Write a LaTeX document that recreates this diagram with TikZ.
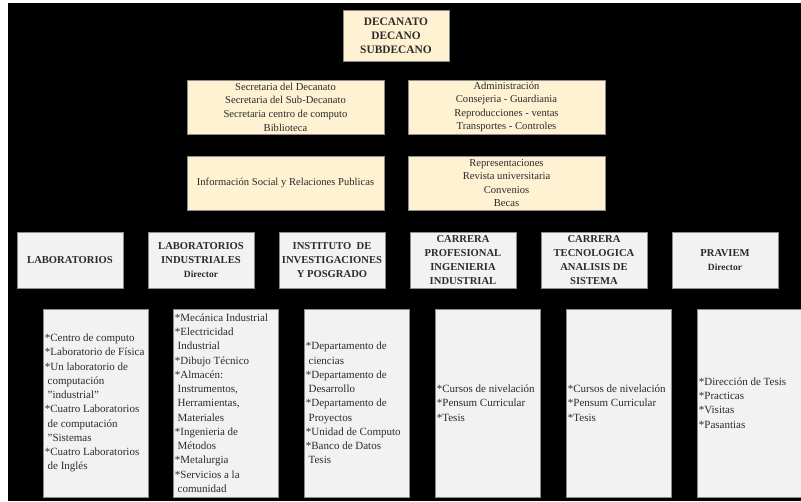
\documentclass[tikz,border=0pt]{standalone}
\usepackage{fontspec}
\setmainfont{Liberation Serif}
\definecolor{cream}{HTML}{FFF2D2}
\definecolor{greyf}{HTML}{F2F2F2}
\definecolor{boxline}{HTML}{8C8C8C}
\definecolor{txt}{HTML}{2B2B2B}
\begin{document}
\begin{tikzpicture}[x=1pt,y=-1pt,
  basebox/.style={draw=boxline, line width=0.6pt, inner sep=0pt, align=center, text=txt},
  cbox/.style={basebox, fill=cream, minimum width=197pt, minimum height=54pt, font=\fontsize{10.6}{13.6}\selectfont},
  hbox/.style={basebox, fill=greyf, minimum width=106pt, minimum height=56pt, font=\bfseries\fontsize{10.6}{14}\selectfont},
  lbox/.style={basebox, fill=greyf, minimum width=105pt, minimum height=188pt},
  ltext/.style={inner sep=0pt, anchor=west, align=left, text=txt, font=\fontsize{11}{14.25}\selectfont}
]
\useasboundingbox (0,0) rectangle (801,501);
\fill[white] (0,0) rectangle (801,501);
\fill[black] (8,3) rectangle (801,501);

% top
\node[basebox, fill=cream, minimum width=106pt, minimum height=51pt, font=\bfseries\fontsize{11.4}{14}\selectfont] (dec) at (396,35.5) {DECANATO\\DECANO\\SUBDECANO};

% row 2
\node[cbox] (secr) at (285.5,107) {Secretaria del Decanato\\Secretaria del Sub-Decanato\\Secretaria centro de computo\\Biblioteca};
\node[cbox] (adm) at (506.5,107) {Administración\\Consejeria - Guardiania\\Reproducciones - ventas\\Transportes - Controles};

% row 3
\node[cbox] (info) at (285.5,183) {Información Social y Relaciones Publicas};
\node[cbox] (repr) at (506.5,183) {Representaciones\\Revista universitaria\\Convenios\\Becas};

% row 4
\node[hbox] (h1) at (70,260) {LABORATORIOS};
\node[hbox] (h2) at (201,260) {LABORATORIOS\\INDUSTRIALES\\{\fontsize{9.5}{14}\selectfont Director}};
\node[hbox] (h3) at (332,260) {INSTITUTO\ \ DE\\INVESTIGACIONES\\Y POSGRADO};
\node[hbox] (h4) at (463,260) {CARRERA\\PROFESIONAL\\INGENIERIA\\INDUSTRIAL};
\node[hbox] (h5) at (594,260) {CARRERA\\TECNOLOGICA\\ANALISIS DE\\SISTEMA};
\node[hbox] (h6) at (725,260) {PRAVIEM\\{\fontsize{9.5}{14}\selectfont Director}};

% row 5 boxes
\node[lbox] (l1) at (95.5,403) {};
\node[lbox] (l2) at (225.5,403) {};
\node[lbox] (l3) at (356.5,403) {};
\node[lbox] (l4) at (487.5,403) {};
\node[lbox] (l5) at (618.5,403) {};
\node[lbox, minimum width=106pt] (l6) at (750,403) {};

% row 5 texts
\node[ltext] (t1) at ([xshift=2pt]l1.west) {*Centro de computo\\*Laboratorio de Física\\*Un laboratorio de\\\ computación\\\ \char34 industrial\char34\\*Cuatro Laboratorios\\\ de computación\\\ \char34 Sistemas\\*Cuatro Laboratorios\\\ de Inglés};
\node[ltext] (t2) at ([xshift=2pt]l2.west) {*Mecánica Industrial\\*Electricidad\\\ Industrial\\*Dibujo Técnico\\*Almacén:\\\ Instrumentos,\\\ Herramientas,\\\ Materiales\\*Ingenieria de\\\ Métodos\\*Metalurgia\\*Servicios a la\\\ comunidad};
\node[ltext] (t3) at ([xshift=2pt]l3.west) {*Departamento de\\\ ciencias\\*Departamento de\\\ Desarrollo\\*Departamento de\\\ Proyectos\\*Unidad de Computo\\*Banco de Datos\\\ Tesis};
\node[ltext] (t4) at ([xshift=2pt]l4.west) {*Cursos de nivelación\\*Pensum Curricular\\*Tesis};
\node[ltext] (t5) at ([xshift=2pt]l5.west) {*Cursos de nivelación\\*Pensum Curricular\\*Tesis};
\node[ltext] (t6) at ([xshift=2pt]l6.west) {*Dirección de Tesis\\*Practicas\\*Visitas\\*Pasantias};
\end{tikzpicture}
\end{document}
